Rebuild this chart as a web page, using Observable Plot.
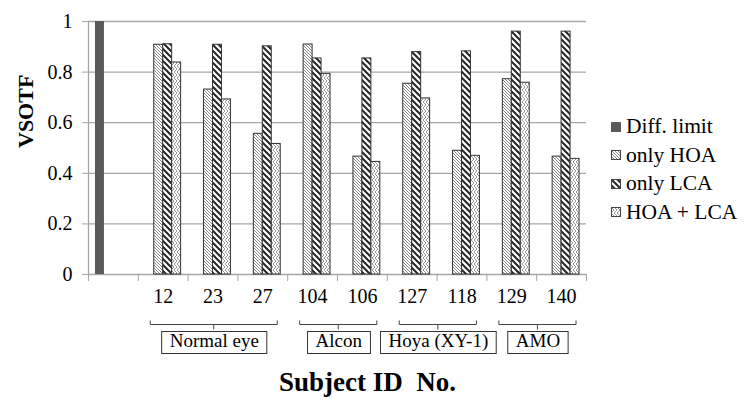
<!DOCTYPE html>
<html><head><meta charset="utf-8">
<script src="https://cdn.jsdelivr.net/npm/d3@7"></script>
<script src="https://cdn.jsdelivr.net/npm/@observablehq/plot@0.6"></script>
<style>
body{margin:0;background:#fff;}
#wrap{position:relative;width:744px;height:405px;color:#000;}
#legend{position:absolute;left:611px;top:112.5px;font-size:21.5px;}
.row{height:28.5px;display:flex;align-items:center;white-space:nowrap;}
.row svg{margin-right:5px;flex:none;}
</style></head><body>
<svg width="0" height="0" style="position:absolute"><defs>
<pattern id="pHOA" patternUnits="userSpaceOnUse" width="3" height="3"><rect width="3" height="3" fill="#fff"/><path d="M-1,-1L4,4M-1,2L1,4M2,-1L4,1" stroke="#7a7a7a" stroke-width="0.9"/></pattern>
<pattern id="pLCA" patternUnits="userSpaceOnUse" width="6" height="6"><rect width="6" height="6" fill="#fff"/><path d="M-1,-1L7,7M-1,5L1,7M5,-1L7,1" stroke="#262626" stroke-width="2"/></pattern>
<pattern id="pBoth" patternUnits="userSpaceOnUse" width="6" height="6"><rect width="6" height="6" fill="#fff"/><path d="M0,0L3,3L0,6M3,0L6,3L3,6" fill="none" stroke="#8a8a8a" stroke-width="0.9"/></pattern>
</defs></svg>
<div id="wrap"><div id="legend"></div></div>
<script>
const categories = ["", "12", "23", "27", "104", "106", "127", "118", "129", "140"];
const diffLimit = [1, null, null, null, null, null, null, null, null, null];
const onlyHOA  = [null, 0.908, 0.731, 0.556, 0.909, 0.466, 0.754, 0.489, 0.772, 0.466];
const onlyLCA  = [null, 0.910, 0.908, 0.902, 0.854, 0.854, 0.879, 0.882, 0.960, 0.960];
const hoaLCA   = [null, 0.838, 0.692, 0.516, 0.793, 0.445, 0.696, 0.469, 0.758, 0.457];
const seriesNames = ["Diff. limit", "only HOA", "only LCA", "HOA + LCA"];
const seriesValues = [diffLimit, onlyHOA, onlyLCA, hoaLCA];
const yTicks = [0, 0.2, 0.4, 0.6, 0.8, 1];
const groupNames = ["Normal eye", "Alcon", "Hoya (XY-1)", "AMO"];
const groupFirst = ["12", "104", "127", "129"];
const groupLast  = ["27", "106", "118", "140"];

const serif = "'Liberation Serif', Tinos, 'Times New Roman', serif";
const seriesFill = ["#595959", "url(#pHOA)", "url(#pLCA)", "url(#pBoth)"];
const seriesStroke = ["none", "#333", "#333", "#333"];
const slot = 0.18, start = 0.14;

const bars = [];
seriesValues.forEach((vals, s) => vals.forEach((v, i) => { if (v != null) bars.push({i, s, v}); }));
const ci = c => categories.indexOf(c);
const grid = "#a6a6a6";

const plot = Plot.plot({
  width: 744, height: 405,
  marginLeft: 88, marginRight: 158, marginTop: 21, marginBottom: 131,
  x: {domain: [0, categories.length], label: null},
  y: {domain: [0, 1], label: null},
  style: {fontFamily: serif, fontSize: "20px", color: "#000", background: "transparent", overflow: "visible"},
  marks: [
    Plot.ruleY(yTicks, {stroke: grid, strokeWidth: 1.3}),
    Plot.ruleX([0], {y1: 0, y2: 1, stroke: grid, strokeWidth: 1.3}),
    ...seriesNames.map((name, s) => Plot.rect(bars.filter(d => d.s === s), {
      x1: d => d.i + start + d.s * slot,
      x2: d => d.i + start + (d.s + 1) * slot,
      y1: 0, y2: "v",
      fill: seriesFill[s], stroke: seriesStroke[s], strokeWidth: 1
    })),
    Plot.axisY({ticks: yTicks, tickSize: 6, tickPadding: 10, tickFormat: d => String(d), stroke: grid, label: null}),
    Plot.axisX({ticks: d3.range(categories.length + 1), tickSize: 7, tickFormat: () => "", stroke: grid, label: null}),
    Plot.axisX({ticks: categories.map((c, i) => i + 0.5), tickSize: 0, tickPadding: 14, tickFormat: v => categories[Math.floor(v)], label: null}),
    Plot.text(groupNames, {x: (d, k) => (ci(groupFirst[k]) + 0.25 + ci(groupLast[k]) + 0.8) / 2, y: 0, dy: 66, fontSize: 19}),
    Plot.text(["Subject ID\u00a0 No."], {frameAnchor: "bottom", dy: 116, dx: 30, fontSize: 27, fontWeight: "bold"}),
    Plot.text(["VSOTF"], {frameAnchor: "left", dx: -63, rotate: -90, fontSize: 22, fontWeight: "bold"})
  ]
});
const wrap = document.getElementById("wrap");
wrap.prepend(plot);
const svgEl = plot.tagName.toLowerCase() === "svg" ? plot : plot.querySelector("svg");
const svg = d3.select(svgEl);
svg.style("font-family", serif, "important");
svg.selectAll("text, tspan").style("font-family", serif, "important");
const xs = plot.scale("x"), ys = plot.scale("y");
const y0 = ys.apply(0);
const g = svg.append("g").attr("fill", "none").attr("stroke", "#444").attr("stroke-width", 1);
groupNames.forEach((n, k) => {
  const a = xs.apply(ci(groupFirst[k]) + 0.25), b = xs.apply(ci(groupLast[k]) + 0.8), c = (a + b) / 2;
  const yl = Math.round(y0 + 50) + 0.5;
  g.append("path").attr("d", `M${a},${yl - 4}V${yl}H${b}V${yl - 4}M${c},${yl}v5`);
});
const legend = document.getElementById("legend");
seriesNames.forEach((name, s) => {
  const row = document.createElement("div");
  row.className = "row";
  row.innerHTML = `<svg width="10" height="10"><rect x="0.5" y="0.5" width="9" height="9" fill="${seriesFill[s]}" stroke="${s === 0 ? "#595959" : "#444"}"/></svg><span>${name}</span>`;
  row.querySelector("span").style.setProperty("font-family", serif, "important");
  legend.appendChild(row);
});
const sr = svgEl.getBoundingClientRect();
svg.selectAll("text").filter(function () { return groupNames.includes(this.textContent); }).each(function () {
  const bb = this.getBoundingClientRect();
  g.append("rect").attr("x", bb.left - sr.left - 8).attr("y", Math.round(y0 + 57) + 0.5).attr("width", bb.width + 16).attr("height", 22).attr("stroke", "#333");
});
</script>
</body></html>
